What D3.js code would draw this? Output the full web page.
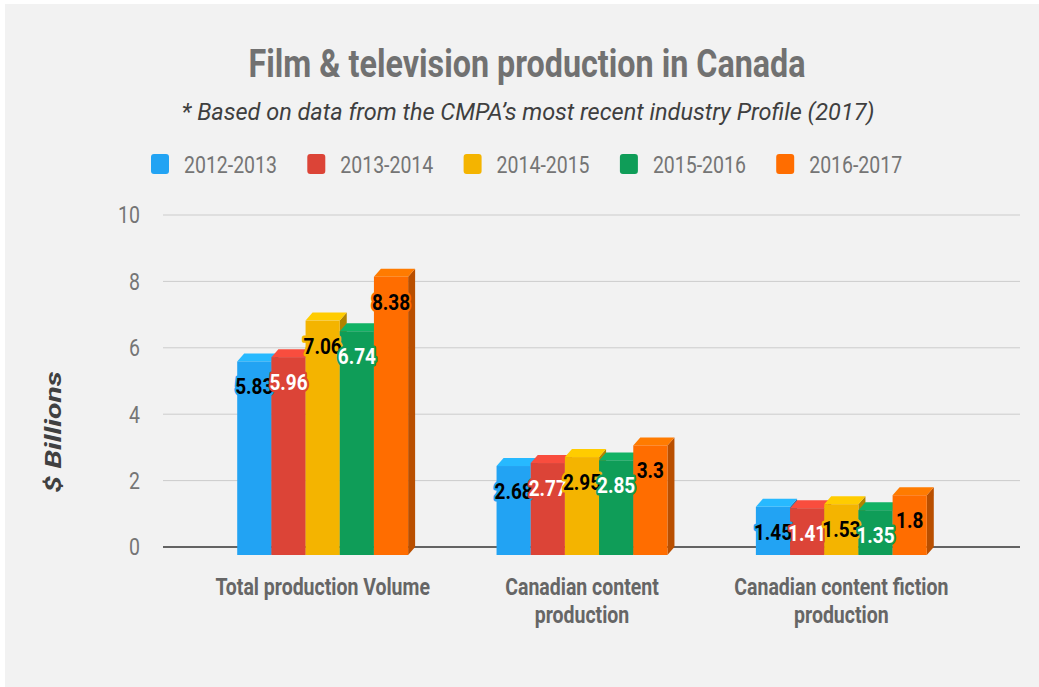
<!DOCTYPE html>
<html lang="en">
<head>
  <meta charset="UTF-8">
  <title>Film & television production in Canada</title>
  <script src="https://d3js.org/d3.v7.min.js"></script>
  <style>
    body { margin: 0; background: #fff; }
    text { font-family: Roboto, "Noto Sans", sans-serif; }
  </style>
</head>
<body>
  <svg id="chart" width="1039" height="687"></svg>

  <script>
    // data
    const categories = ["Total production Volume", "Canadian content production", "Canadian content fiction production"];
    const categoryLines = [["Total production Volume"], ["Canadian content", "production"], ["Canadian content fiction", "production"]];
    const seriesNames = ["2012-2013", "2013-2014", "2014-2015", "2015-2016", "2016-2017"];
    const values2012 = [5.83, 2.68, 1.45];
    const values2013 = [5.96, 2.77, 1.41];
    const values2014 = [7.06, 2.95, 1.53];
    const values2015 = [6.74, 2.85, 1.35];
    const values2016 = [8.38, 3.3, 1.8];
    const yTicks = [0, 2, 4, 6, 8, 10];

    const seriesValues = [values2012, values2013, values2014, values2015, values2016];
    const colors = ["#22a3f3", "#dc4437", "#f4b400", "#0f9d58", "#ff6d00"];
    const labelInk = ["#000", "#fff", "#000", "#fff", "#000"];

    // the source picture is stretched vertically, so text is too
    const SY = 1.2;
    const depthX = 7, depthY = 8;

    const svg = d3.select("#chart");

    svg.append("rect")
      .attr("x", 5).attr("y", 4)
      .attr("width", 1034).attr("height", 683)
      .attr("fill", "#f2f2f2");

    const y = d3.scaleLinear().domain([0, 10]).range([547, 215]);
    const x0 = d3.scaleBand().domain(categories).range([193, 971])
      .paddingInner(0.341).paddingOuter(0.1705);
    const x1 = d3.scaleBand().domain(seriesNames).range([0, x0.bandwidth()]);

    // title + subtitle
    svg.append("text")
      .attr("transform", `translate(527,77) scale(1,${SY})`)
      .attr("text-anchor", "middle")
      .attr("font-size", 32.3).attr("font-weight", 700)
      .attr("fill", "#717171")
      .text("Film & television production in Canada");

    svg.append("text")
      .attr("transform", `translate(528,120) scale(1,1.05)`)
      .attr("text-anchor", "middle")
      .attr("font-size", 23.5).attr("font-style", "italic")
      .attr("fill", "#3f3f3f")
      .text("* Based on data from the CMPA\u2019s most recent industry Profile (2017)");

    // legend
    const legend = svg.append("g").selectAll("g")
      .data(seriesNames)
      .join("g")
      .attr("transform", (d, i) => `translate(${151 + i * 156.3},0)`);
    legend.append("rect")
      .attr("x", 0).attr("y", 154)
      .attr("width", 18).attr("height", 20).attr("rx", 3)
      .attr("fill", (d, i) => colors[i]);
    legend.append("text")
      .attr("transform", `translate(33,173) scale(1,${SY})`)
      .attr("font-size", 19.5)
      .attr("fill", "#757575")
      .text(d => d);

    // gridlines and y ticks
    svg.append("g").selectAll("line")
      .data(yTicks)
      .join("line")
      .attr("x1", 163).attr("x2", 1020)
      .attr("y1", d => y(d)).attr("y2", d => y(d))
      .attr("stroke", d => d === 0 ? "#333" : "#cccccc")
      .attr("stroke-width", d => d === 0 ? 1.5 : 1);

    svg.append("g").selectAll("text")
      .data(yTicks)
      .join("text")
      .attr("transform", d => `translate(140,${y(d) + 8.3}) scale(1,${SY})`)
      .attr("text-anchor", "end")
      .attr("font-size", 19.5)
      .attr("fill", "#757575")
      .text(d => d);

    svg.append("text")
      .attr("transform", `translate(61,432) rotate(-90) scale(1.4,1)`)
      .attr("text-anchor", "middle")
      .attr("font-size", 21.5).attr("font-weight", 700).attr("font-style", "italic")
      .attr("fill", "#404040")
      .text("$ Billions");

    // 3D bars, drawn left to right so each bar hides the previous side face
    const bars = [];
    categories.forEach((c, ci) => {
      seriesNames.forEach((s, si) => {
        bars.push({ cat: c, series: s, si: si, value: seriesValues[si][ci] });
      });
    });

    const base = y(0) + depthY;
    const barG = svg.append("g").selectAll("g")
      .data(bars)
      .join("g");

    barG.each(function(d) {
      const g = d3.select(this);
      const bx = x0(d.cat) + x1(d.series);
      const w = x1.bandwidth();
      const top = y(d.value) + depthY;
      const col = d3.color(colors[d.si]);

      g.append("polygon")
        .attr("points", [[bx + w, top], [bx + w + depthX, top - depthY],
          [bx + w + depthX, base - depthY], [bx + w, base]].join(" "))
        .attr("fill", col.darker(0.9));
      g.append("polygon")
        .attr("points", [[bx, top], [bx + depthX, top - depthY],
          [bx + w + depthX, top - depthY], [bx + w, top]].join(" "))
        .attr("fill", col.brighter(0.35));
      g.append("rect")
        .attr("x", bx).attr("y", top)
        .attr("width", w).attr("height", base - top)
        .attr("fill", col);
    });

    // value labels with a halo in the bar colour
    svg.append("g").selectAll("text")
      .data(bars)
      .join("text")
      .attr("transform", d => `translate(${x0(d.cat) + x1(d.series) + x1.bandwidth() / 2},${y(d.value) + 41}) scale(1,${SY})`)
      .attr("text-anchor", "middle")
      .attr("font-size", 19).attr("font-weight", 700)
      .attr("fill", d => labelInk[d.si])
      .attr("stroke", d => colors[d.si])
      .attr("stroke-width", 4)
      .attr("stroke-linejoin", "round")
      .attr("paint-order", "stroke")
      .text(d => d.value);

    // category labels
    const catG = svg.append("g").selectAll("text")
      .data(categories)
      .join("text")
      .attr("text-anchor", "middle")
      .attr("font-size", 19.5).attr("font-weight", 700)
      .attr("fill", "#666");
    catG.each(function(d, i) {
      const cx = x0(d) + x0.bandwidth() / 2;
      categoryLines[i].forEach((line, li) => {
        d3.select(this).append("tspan")
          .attr("x", 0).attr("y", li * 23)
          .text(line);
      });
      d3.select(this).attr("transform", `translate(${cx},595) scale(1,${SY})`);
    });
  </script>
</body>
</html>
